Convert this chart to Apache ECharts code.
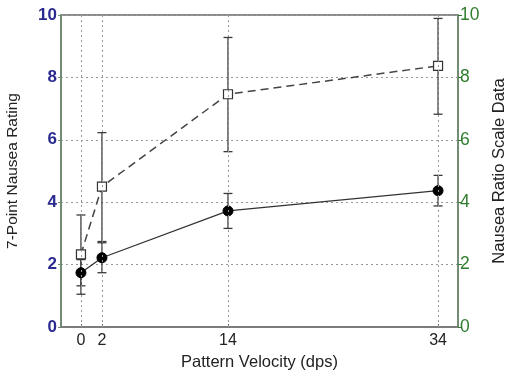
<!DOCTYPE html>
<html>
<head>
<meta charset="utf-8">
<script src="https://cdn.jsdelivr.net/npm/echarts@6/dist/echarts.min.js"></script>
<style>
  html, body { margin: 0; padding: 0; background: #fff; }
  #chart { width: 509px; height: 374px; }
</style>
</head>
<body>
<div id="chart"></div>
<script>
  /** Data */
  var velocities = [0, 2, 14, 34];
  var ratingMean = [1.74, 2.22, 3.72, 4.37];
  var ratingLow = [1.32, 1.74, 3.16, 3.88];
  var ratingHigh = [2.16, 2.70, 4.28, 4.86];
  var ratioMean = [2.33, 4.50, 7.46, 8.37];
  var ratioLow = [1.05, 2.74, 5.62, 6.82];
  var ratioHigh = [3.59, 6.23, 9.28, 9.89];

  function pairs(xs, ys) {
    return xs.map(function(x, i) { return [x, ys[i]]; });
  }
  function bars(xs, lo, hi) {
    return xs.map(function(x, i) { return [x, lo[i], hi[i]]; });
  }

  /** Error bar drawing */
  function errorBar(params, api) {
    var lo = api.coord([api.value(0), api.value(1)]);
    var hi = api.coord([api.value(0), api.value(2)]);
    var w = 4.5;
    var style = { stroke: '#3a3a3a', lineWidth: 1.3 };
    return {
      type: 'group',
      children: [
        { type: 'line', shape: { x1: lo[0], y1: lo[1], x2: hi[0], y2: hi[1] }, style: style },
        { type: 'line', shape: { x1: lo[0] - w, y1: lo[1], x2: lo[0] + w, y2: lo[1] }, style: style },
        { type: 'line', shape: { x1: hi[0] - w, y1: hi[1], x2: hi[0] + w, y2: hi[1] }, style: style }
      ]
    };
  }

  var font = 'Liberation Sans, Arial, sans-serif';
  var chart = echarts.init(document.getElementById('chart'));
  chart.setOption({
    animation: false,
    grid: {
      left: 61, right: 51, top: 15, bottom: 47, outerBoundsMode: 'none', containLabel: false,
      show: true, borderColor: '#666', borderWidth: 1.5
    },
    xAxis: {
      type: 'value', min: -1.9, max: 35.9,
      name: 'Pattern Velocity (dps)', nameLocation: 'middle', nameGap: 25,
      nameTextStyle: { fontFamily: font, fontSize: 16.5, color: '#222' },
      axisLine: { onZero: false, lineStyle: { color: '#777', width: 1.5 } },
      axisTick: { show: true, inside: true, length: 3, customValues: velocities, lineStyle: { color: '#555' } },
      axisLabel: { customValues: velocities, fontFamily: font, fontSize: 16, color: '#222', margin: 6 },
      splitLine: { show: false }
    },
    yAxis: [
      {
        type: 'value', min: 0, max: 10, interval: 2, position: 'left',
        name: '7-Point Nausea Rating', nameLocation: 'middle', nameGap: 40, nameRotate: 90,
        nameTextStyle: { fontFamily: font, fontSize: 15.5, color: '#222' },
        axisLine: { show: true, onZero: false, lineStyle: { color: '#6d8c6d', width: 1.5 } },
        axisTick: { show: true, length: 3, lineStyle: { color: '#6d8c6d' } },
        axisLabel: { fontFamily: font, fontSize: 17, fontWeight: 'bold', color: '#2a2a90', margin: 4 },
        splitLine: { show: true, lineStyle: { color: '#999', type: [2, 3], width: 1 } }
      },
      {
        type: 'value', min: 0, max: 10, interval: 2, position: 'right',
        name: 'Nausea Ratio Scale Data', nameLocation: 'middle', nameGap: 33, nameRotate: 90,
        nameTextStyle: { fontFamily: font, fontSize: 16.5, color: '#222' },
        axisLine: { show: true, onZero: false, lineStyle: { color: '#6d8c6d', width: 1.5 } },
        axisTick: { show: true, length: 4, lineStyle: { color: '#2e7d2e' } },
        axisLabel: { fontFamily: font, fontSize: 17.5, color: '#2e7d2e', margin: 2 },
        splitLine: { show: false }
      }
    ],
    series: [
      {
        type: 'custom', name: 'ratioErr', yAxisIndex: 1, renderItem: errorBar,
        data: bars(velocities, ratioLow, ratioHigh), z: 2,
        markLine: {
          silent: true, symbol: 'none', label: { show: false },
          lineStyle: { color: '#999', type: [2, 3], width: 1 },
          data: velocities.map(function(v) { return { xAxis: v }; })
        }
      },
      {
        type: 'custom', name: 'ratingErr', renderItem: errorBar,
        data: bars(velocities, ratingLow, ratingHigh), z: 2
      },
      {
        type: 'line', name: 'Nausea Ratio Scale', yAxisIndex: 1,
        data: pairs(velocities, ratioMean),
        symbol: 'rect', symbolSize: 9,
        itemStyle: { color: '#fff', borderColor: '#333', borderWidth: 1.2 },
        lineStyle: { color: '#444', width: 1.5, type: [8, 5] }, z: 3
      },
      {
        type: 'line', name: '7-Point Nausea Rating',
        data: pairs(velocities, ratingMean),
        symbol: 'circle', symbolSize: 10,
        itemStyle: { color: '#000', borderColor: '#000' },
        lineStyle: { color: '#333', width: 1.3 }, z: 4
      }
    ]
  });
</script>
</body>
</html>
